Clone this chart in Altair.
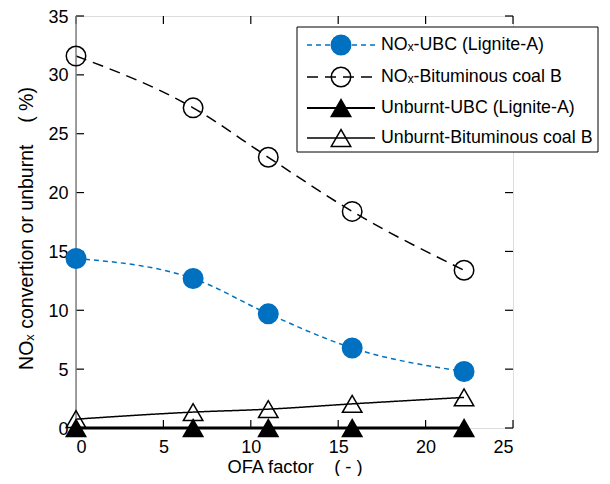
import altair as alt
import pandas as pd

ofa = [0, 6.7, 11.0, 15.8, 22.2]
nox_ubc = [14.4, 12.7, 9.7, 6.8, 4.8]
nox_bit = [31.6, 27.2, 23.0, 18.4, 13.4]
unb_ubc = [0.0, 0.0, 0.0, 0.0, 0.0]
unb_bit = [0.75, 1.35, 1.6, 2.05, 2.6]

series_names = [
    "NOₓ-UBC (Lignite-A)",
    "NOₓ-Bituminous coal B",
    "Unburnt-UBC (Lignite-A)",
    "Unburnt-Bituminous coal B",
]
series_values = [nox_ubc, nox_bit, unb_ubc, unb_bit]

x_ticks = [0, 5, 10, 15, 20, 25]
y_ticks = [0, 5, 10, 15, 20, 25, 30, 35]

NB = "\u00a0"
x_title = "OFA factor" + NB * 4 + "(" + NB + "-" + NB + ")"
y_title = "NOₓ convertion or unburnt" + NB * 4 + "(" + NB + "%)"

BLUE = "#0070C0"
line_colors = [BLUE, "black", "black", "black"]
line_dash = [[5, 4], [11, 7], [1, 0], [1, 0]]
line_width = [1.5, 1.5, 3, 1.5]
shapes = ["circle", "circle", "triangle-up", "triangle-up"]
fills = [BLUE, "transparent", "black", "transparent"]
strokes = [BLUE, "black", "black", "black"]
sizes = [380, 380, 380, 380]

W, H = 437, 412
FONT = "Liberation Sans"
TICK = 8

rows = []
for name, vals in zip(series_names, series_values):
    for xv, yv in zip(ofa, vals):
        rows.append({"series": name, "ofa": xv, "val": yv})
df = pd.DataFrame(rows)

xscale = alt.Scale(domain=[0, 25], nice=False)
yscale = alt.Scale(domain=[0, 35], nice=False)

layers = []
# lines
for i, name in enumerate(series_names):
    sub = df[df.series == name]
    first = i == 0
    ln = alt.Chart(sub).mark_line(
        interpolate="monotone",
        color=line_colors[i],
        strokeDash=line_dash[i],
        strokeWidth=line_width[i],
    ).encode(
        x=alt.X("ofa:Q", scale=xscale,
                axis=alt.Axis(title=x_title, values=x_ticks,
                              orient="bottom", ticks=False, domain=False,
                              grid=False, labelPadding=10,
                              titleY=44, titleBaseline="alphabetic",
                              labelColor="black", titleColor="black",
                              labelFont=FONT, titleFont=FONT, labelFontSize=18,
                              titleFontSize=18.3, titleFontWeight="normal") if first else None),
        y=alt.Y("val:Q", scale=yscale,
                axis=alt.Axis(title=y_title,
                              values=y_ticks,
                              orient="left", ticks=False, domain=False,
                              grid=False, labelPadding=8, labelOffset=1,
                              titleX=-44, titleY=212, titleBaseline="alphabetic",
                              labelColor="black", titleColor="black",
                              labelFont=FONT, titleFont=FONT, labelFontSize=18,
                              titleFontSize=19.5, titleFontWeight="normal") if first else None),
    )
    layers.append(ln)

# inward tick marks on all four sides, placed through the scales
xt = pd.DataFrame({"t": x_ticks})
yt = pd.DataFrame({"t": y_ticks})
tick_style = dict(color="black", strokeWidth=1.2)
layers.append(alt.Chart(xt).mark_rule(**tick_style).encode(
    x=alt.X("t:Q", scale=xscale, axis=None), y=alt.value(H), y2=alt.value(H - TICK)))
layers.append(alt.Chart(xt).mark_rule(**tick_style).encode(
    x=alt.X("t:Q", scale=xscale, axis=None), y=alt.value(0), y2=alt.value(TICK)))
layers.append(alt.Chart(yt).mark_rule(**tick_style).encode(
    y=alt.Y("t:Q", scale=yscale, axis=None), x=alt.value(0), x2=alt.value(TICK)))
layers.append(alt.Chart(yt).mark_rule(**tick_style).encode(
    y=alt.Y("t:Q", scale=yscale, axis=None), x=alt.value(W), x2=alt.value(W - TICK)))

# left frame edge (gray)
one = pd.DataFrame({"k": [0]})
layers.append(alt.Chart(one).mark_rule(color="#808080", strokeWidth=1.5).encode(
    x=alt.value(0), y=alt.value(0), y2=alt.value(H)))

# points
for i, name in enumerate(series_names):
    sub = df[df.series == name]
    pt = alt.Chart(sub).mark_point(
        shape=shapes[i], filled=False, fill=fills[i], stroke=strokes[i],
        strokeWidth=1.5, size=sizes[i], opacity=1,
    ).encode(
        x=alt.X("ofa:Q", scale=xscale, axis=None),
        y=alt.Y("val:Q", scale=yscale, axis=None),
    )
    layers.append(pt)

# manual legend
LX0, LX1, LY0, LY1 = 221, 522, 11, 136
row_y = [29, 61, 92, 122]
layers.append(alt.Chart(one).mark_rect(fill="white", stroke="black", strokeWidth=1).encode(
    x=alt.value(LX0), x2=alt.value(LX1), y=alt.value(LY0), y2=alt.value(LY1)))
for i, name in enumerate(series_names):
    ld = pd.DataFrame({"label": [name]})
    layers.append(alt.Chart(ld).mark_rule(
        color=line_colors[i], strokeDash=line_dash[i], strokeWidth=line_width[i] if i != 2 else 2
    ).encode(x=alt.value(231), x2=alt.value(299), y=alt.value(row_y[i])))
    layers.append(alt.Chart(ld).mark_point(
        shape=shapes[i], filled=False, fill=fills[i], stroke=strokes[i],
        strokeWidth=1.5, size=sizes[i], opacity=1,
    ).encode(x=alt.value(265), y=alt.value(row_y[i])))
    layers.append(alt.Chart(ld).mark_text(
        align="left", baseline="middle", font=FONT, fontSize=17.8, color="black"
    ).encode(x=alt.value(305), y=alt.value(row_y[i]), text="label:N"))

chart = alt.layer(*layers).resolve_axis(x="independent", y="independent").properties(
    width=W, height=H,
    autosize=alt.AutoSizeParams(type="none"),
    padding={"left": 68, "top": 8, "right": 86, "bottom": 48},
).configure_view(stroke="black", strokeWidth=1).configure(background="white")

chart.save("out.html", embed_options={"renderer": "svg", "actions": False})
